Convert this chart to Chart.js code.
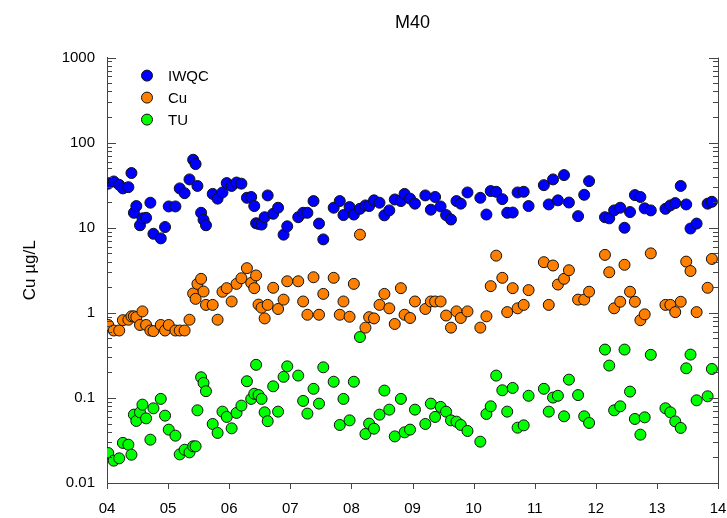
<!DOCTYPE html>
<html>
<head>
<meta charset="utf-8">
<script src="https://cdn.jsdelivr.net/npm/chart.js@4.4.1/dist/chart.umd.min.js"></script>
<style>
    html, body { margin: 0; padding: 0; background: #fff; }
    #wrap { width: 727px; height: 518px; }
</style>
</head>
<body>
<div id="wrap"><canvas id="cuChart" width="727" height="518"></canvas></div>
<script>
/* Fechas de muestreo (año decimal) */
const dates = [
    2004.02, 2004.11, 2004.20, 2004.26, 2004.35, 2004.40, 2004.44, 2004.48, 2004.54, 2004.58,
    2004.64, 2004.71, 2004.76, 2004.88, 2004.95, 2005.01, 2005.12, 2005.19, 2005.27, 2005.35,
    2005.41, 2005.45, 2005.48, 2005.54, 2005.58, 2005.62, 2005.73, 2005.81, 2005.89, 2005.96,
    2006.04, 2006.12, 2006.20, 2006.29, 2006.36, 2006.41, 2006.44, 2006.48, 2006.53, 2006.58,
    2006.63, 2006.72, 2006.80, 2006.89, 2006.95, 2007.13, 2007.21, 2007.28, 2007.38, 2007.47,
    2007.54, 2007.71, 2007.81, 2007.87, 2007.97, 2008.04, 2008.14, 2008.23, 2008.29, 2008.37,
    2008.46, 2008.54, 2008.62, 2008.71, 2008.81, 2008.87, 2008.96, 2009.04, 2009.21, 2009.30,
    2009.37, 2009.46, 2009.55, 2009.63, 2009.72, 2009.79, 2009.90, 2010.11, 2010.21, 2010.28,
    2010.37, 2010.47, 2010.55, 2010.64, 2010.72, 2010.82, 2010.90, 2011.15, 2011.23, 2011.30,
    2011.38, 2011.48, 2011.56, 2011.71, 2011.81, 2011.89, 2012.15, 2012.22, 2012.30, 2012.40,
    2012.47, 2012.56, 2012.64, 2012.73, 2012.80, 2012.90, 2013.14, 2013.22, 2013.30, 2013.39,
    2013.48, 2013.55, 2013.65, 2013.83, 2013.90
];

const iwqc = [
    33, 35, 32, 29, 30, 44, 15, 18, 10.7, 12.9,
    13.1, 19.7, 8.5, 7.5, 10.2, 17.8, 17.8, 29, 25.5, 37,
    63, 56, 31, 15, 12.4, 10.7, 25, 22, 26, 33.5,
    31, 34, 33, 22.5, 23, 18, 11.3, 11.1, 10.9, 13.3,
    24, 14.6, 17.2, 8.3, 10.4, 13.3, 15, 15, 20.6, 11.2,
    7.3, 17.2, 20.6, 14.1, 17.5, 14.3, 16.7, 18.3, 18, 21,
    19.7, 14, 16, 21.5, 20.6, 25, 22, 19.2, 24, 16.3,
    23, 17.8, 14.1, 12.5, 20.6, 19.2, 26, 22.5, 14.3, 27,
    26.5, 21.7, 15, 15.1, 26, 26.5, 18, 31.7, 18.8, 37,
    21, 41.6, 19.8, 13.7, 24.4, 35.3, 13.3, 12.9, 16, 17.2,
    10, 15.3, 24.2, 23, 16.9, 16, 16.7, 18.3, 19.5, 31,
    18.8, 9.8, 11.2, 19.2, 20.2
];

const cu = [
    0.72, 0.62, 0.62, 0.82, 0.83, 0.91, 0.91, 0.89, 0.72, 1.04,
    0.72, 0.62, 0.61, 0.72, 0.62, 0.72, 0.62, 0.62, 0.62, 0.83,
    1.69, 1.46, 2.19, 2.51, 1.78, 1.24, 1.24, 0.83, 1.77, 1.95,
    1.36, 2.19, 2.55, 3.35, 2.25, 1.95, 2.75, 1.25, 1.15, 0.86,
    1.24, 1.97, 1.11, 1.43, 2.35, 2.35, 1.36, 0.95, 2.62, 0.95,
    1.67, 2.58, 0.95, 1.36, 0.9, 2.19, 8.3, 0.67, 0.89, 0.86,
    1.24, 1.67, 1.13, 0.74, 1.95, 0.95, 0.87, 1.36, 1.11, 1.36,
    1.36, 1.36, 0.93, 0.67, 1.04, 0.87, 1.04, 0.67, 0.91, 2.06,
    4.7, 2.58, 1.02, 1.95, 1.13, 1.24, 1.85, 3.94, 1.24, 3.6,
    2.15, 2.51, 3.17, 1.43, 1.43, 1.77, 4.8, 3.0, 1.13, 1.35,
    3.67, 1.77, 1.35, 0.82, 0.96, 5.0, 1.24, 1.24, 1.02, 1.35,
    4.0, 3.1, 1.02, 1.97, 4.3
];

const tu = [
    0.0225, 0.0183, 0.0195, 0.0296, 0.0282, 0.0215, 0.0636, 0.0536, 0.0677, 0.0834,
    0.0575, 0.0323, 0.0755, 0.0974, 0.0619, 0.0424, 0.036, 0.0217, 0.0246, 0.0229,
    0.027, 0.027, 0.0715, 0.175, 0.15, 0.12, 0.0494, 0.0388, 0.069, 0.0598,
    0.0439, 0.0666, 0.0812, 0.157, 0.0974, 0.112, 0.245, 0.108, 0.0974, 0.0677,
    0.0533, 0.137, 0.069, 0.177, 0.235, 0.183, 0.0922, 0.0654, 0.128, 0.0857,
    0.229, 0.155, 0.0481, 0.0974, 0.0545, 0.155, 0.52, 0.0377, 0.0499, 0.0435,
    0.0636, 0.122, 0.0728, 0.0353, 0.0974, 0.0394, 0.0424, 0.0728, 0.0494, 0.0857,
    0.0598, 0.0784, 0.069, 0.0545, 0.0526, 0.0481, 0.0409, 0.0306, 0.0648, 0.0797,
    0.183, 0.123, 0.069, 0.131, 0.0447, 0.0476, 0.106, 0.128, 0.069, 0.101,
    0.106, 0.0608, 0.164, 0.108, 0.0608, 0.0508, 0.37, 0.24, 0.0715, 0.0797,
    0.37, 0.1186, 0.0566, 0.037, 0.0591, 0.321, 0.0755, 0.0677, 0.053, 0.0444,
    0.223, 0.323, 0.0937, 0.1045, 0.219
];

const seriesNames = ["IWQC", "Cu", "TU"];
const seriesColors = ["#0000ff", "#ff8000", "#00ff00"];

const xTickValues = [2004, 2005, 2006, 2007, 2008, 2009, 2010, 2011, 2012, 2013, 2014];
const xTickLabels = ["04", "05", "06", "07", "08", "09", "10", "11", "12", "13", "14"];
const yTickValues = [0.01, 0.1, 1, 10, 100, 1000];
const yTickLabels = ["0.01", "0.1", "1", "10", "100", "1000"];

const FONT = "'Liberation Sans', Arial, sans-serif";
const AXIS_COLOR = "#444";

function toPoints(values) {
    return dates.map((d, i) => ({ x: d, y: values[i] }));
}

/* Marcas de los ejes hacia dentro (estilo SigmaPlot) y eje derecho */
const axisTicks = {
    id: "axisTicks",
    afterDraw(chart) {
        const { ctx, chartArea: a, scales: { x, y } } = chart;
        ctx.save();
        ctx.strokeStyle = AXIS_COLOR;
        ctx.lineWidth = 1;
        ctx.beginPath();
        ctx.moveTo(a.right + 0.5, a.top);
        ctx.lineTo(a.right + 0.5, a.bottom);
        for (let e = -2; e <= 3; e++) {
            for (let k = 1; k <= 9; k++) {
                const v = k * Math.pow(10, e);
                if (v > 1000) break;
                const py = Math.round(y.getPixelForValue(v)) + 0.5;
                const len = k === 1 ? 9 : 5;
                ctx.moveTo(a.left, py);
                ctx.lineTo(a.left + len, py);
                ctx.moveTo(a.right, py);
                ctx.lineTo(a.right - len, py);
            }
        }
        xTickValues.forEach(v => {
            const px = Math.round(x.getPixelForValue(v)) + 0.5;
            ctx.moveTo(px, a.bottom);
            ctx.lineTo(px, a.bottom + 6);
        });
        ctx.stroke();
        ctx.restore();
    }
};

/* Leyenda dentro del área de trazado, arriba a la izquierda */
const innerLegend = {
    id: "innerLegend",
    afterDraw(chart) {
        const { ctx, chartArea: a } = chart;
        ctx.save();
        ctx.font = "15px " + FONT;
        ctx.textBaseline = "middle";
        chart.data.datasets.forEach((ds, i) => {
            const cx = a.left + 40;
            const cy = a.top + 18 + i * 22;
            ctx.beginPath();
            ctx.arc(cx, cy, 5.5, 0, Math.PI * 2);
            ctx.fillStyle = ds.backgroundColor;
            ctx.fill();
            ctx.lineWidth = 1;
            ctx.strokeStyle = "#111";
            ctx.stroke();
            ctx.fillStyle = "#000";
            ctx.fillText(ds.label, cx + 21, cy + 1);
        });
        ctx.restore();
    }
};

const ctx = document.getElementById("cuChart").getContext("2d");

new Chart(ctx, {
    type: "scatter",
    data: {
        datasets: [iwqc, cu, tu].map((vals, i) => ({
            label: seriesNames[i],
            data: toPoints(vals),
            backgroundColor: seriesColors[i],
            borderColor: "#111",
            borderWidth: 1,
            pointRadius: 5.5,
            pointHoverRadius: 5.5
        }))
    },
    options: {
        responsive: false,
        animation: false,
        layout: { padding: { left: 0, right: 9, top: 0, bottom: 0 } },
        plugins: {
            legend: { display: false },
            tooltip: { enabled: false },
            title: {
                display: true,
                text: "M40",
                color: "#000",
                fullSize: false,
                font: { family: FONT, size: 18, weight: "normal" },
                padding: { top: 12, bottom: 24 }
            }
        },
        scales: {
            x: {
                type: "linear",
                min: 2004,
                max: 2014,
                afterFit(scale) {
                    scale.height = 35;
                    // el margen lo fija layout.padding, no la etiqueta "14"
                    scale.paddingLeft = 0;
                    scale.paddingRight = 0;
                },
                afterBuildTicks(scale) {
                    scale.ticks = xTickValues.map(v => ({ value: v }));
                },
                ticks: {
                    color: "#000",
                    padding: 17,
                    maxRotation: 0,
                    font: { family: FONT, size: 15 },
                    callback: (v) => xTickLabels[xTickValues.indexOf(v)]
                },
                grid: { display: false, drawTicks: false },
                border: { display: true, color: AXIS_COLOR, width: 1 }
            },
            y: {
                type: "logarithmic",
                min: 0.01,
                max: 1000,
                afterFit(scale) { scale.width = 107; },
                afterBuildTicks(scale) {
                    scale.ticks = yTickValues.map(v => ({ value: v }));
                },
                ticks: {
                    color: "#000",
                    padding: 12,
                    font: { family: FONT, size: 15 },
                    callback: (v) => {
                        const i = yTickValues.findIndex(t => Math.abs(t - v) / t < 1e-6);
                        return i >= 0 ? yTickLabels[i] : "";
                    }
                },
                title: {
                    display: true,
                    text: "Cu µg/L",
                    color: "#000",
                    font: { family: FONT, size: 17 },
                    padding: { top: 20, bottom: 0 }
                },
                grid: { display: false, drawTicks: false },
                border: { display: true, color: AXIS_COLOR, width: 1 }
            }
        }
    },
    plugins: [axisTicks, innerLegend]
});
</script>
</body>
</html>
